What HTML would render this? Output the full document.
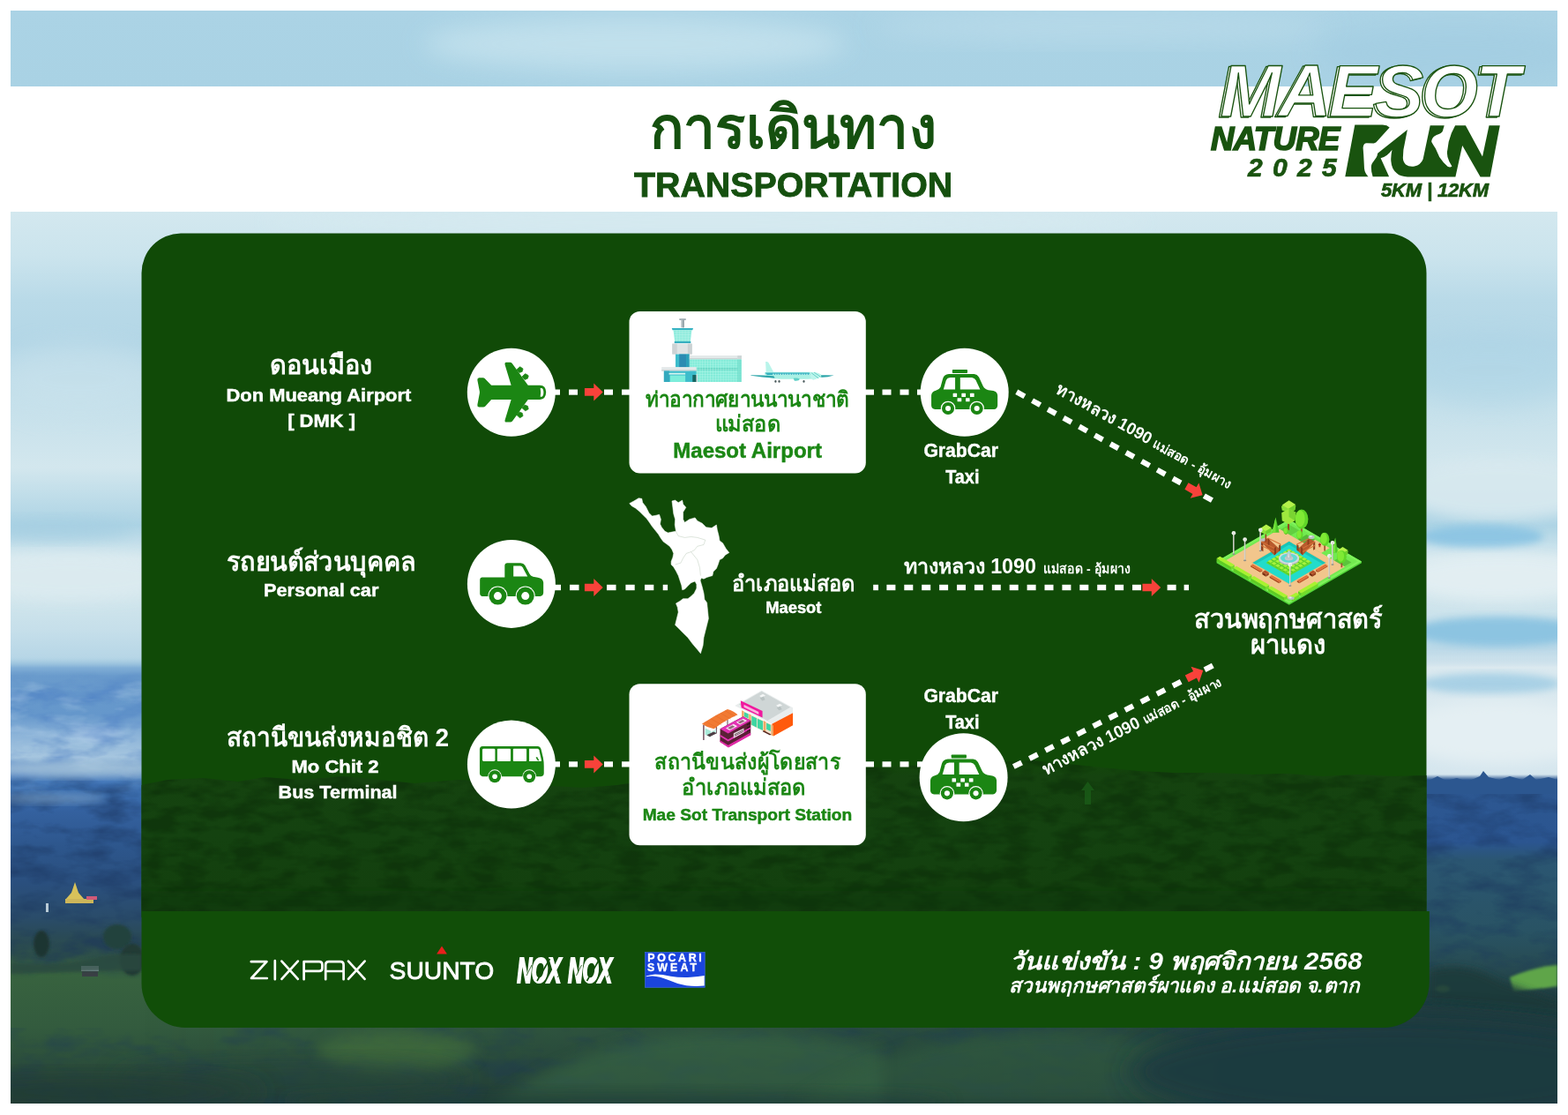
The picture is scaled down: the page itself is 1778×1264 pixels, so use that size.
<!DOCTYPE html>
<html><head><meta charset="utf-8"><title>Transportation - Maesot Nature Run 2025</title>
<style>
html,body{margin:0;padding:0;background:#fff;}
body{width:1778px;height:1264px;overflow:hidden;font-family:"Liberation Sans",sans-serif;}
svg{display:block;position:absolute;left:0;top:0}
text{font-family:"Liberation Sans",sans-serif;}
</style></head><body>
<svg width="1778" height="1264" viewBox="0 0 1778 1264">
<defs>
<clipPath id="photo"><rect x="12" y="12" width="1754" height="1239"/></clipPath>
<linearGradient id="sky" x1="0" y1="12" x2="0" y2="900" gradientUnits="userSpaceOnUse">
 <stop offset="0" stop-color="#abd3e5"/>
 <stop offset="0.097" stop-color="#a9d2e4"/>
 <stop offset="0.257" stop-color="#d3e8ef"/>
 <stop offset="0.313" stop-color="#cbe4ed"/>
 <stop offset="0.369" stop-color="#b9dae8"/>
 <stop offset="0.426" stop-color="#b3d6e6"/>
 <stop offset="0.493" stop-color="#c3dfea"/>
 <stop offset="0.583" stop-color="#d3e7ee"/>
 <stop offset="0.657" stop-color="#acd3e4"/>
 <stop offset="0.70" stop-color="#d8e9ef"/>
 <stop offset="0.752" stop-color="#d0e5ec"/>
 <stop offset="0.79" stop-color="#c6dfea"/>
 <stop offset="0.83" stop-color="#b5d5e6"/>
 <stop offset="1" stop-color="#7fadc6"/>
</linearGradient>
<linearGradient id="mtL" x1="0" y1="745" x2="0" y2="1251" gradientUnits="userSpaceOnUse">
 <stop offset="0.0000" stop-color="#a3cbe0" stop-opacity="0"/>
 <stop offset="0.0237" stop-color="#80aed6"/>
 <stop offset="0.0415" stop-color="#6a9bcc"/>
 <stop offset="0.1285" stop-color="#6597cb"/>
 <stop offset="0.1719" stop-color="#8ab2d8"/>
 <stop offset="0.2233" stop-color="#a6c6df"/>
 <stop offset="0.2549" stop-color="#6593c8"/>
 <stop offset="0.2866" stop-color="#3f74b6"/>
 <stop offset="0.3458" stop-color="#34619f"/>
 <stop offset="0.4249" stop-color="#2d568c"/>
 <stop offset="0.5040" stop-color="#2a4f7e"/>
 <stop offset="0.5830" stop-color="#2a4c6a"/>
 <stop offset="0.6265" stop-color="#2a4a56"/>
 <stop offset="0.6719" stop-color="#2e5048"/>
 <stop offset="0.7016" stop-color="#38633f"/>
 <stop offset="0.8300" stop-color="#335b3e"/>
 <stop offset="0.9289" stop-color="#2a4b3a"/>
 <stop offset="1.0000" stop-color="#233f36"/>
</linearGradient>
<linearGradient id="mtR" x1="0" y1="735" x2="0" y2="1251" gradientUnits="userSpaceOnUse">
 <stop offset="0.0000" stop-color="#dbe9ef" stop-opacity="0"/>
 <stop offset="0.0407" stop-color="#dbe9ef"/>
 <stop offset="0.2771" stop-color="#d5e6ee"/>
 <stop offset="0.2888" stop-color="#2d5892"/>
 <stop offset="0.4264" stop-color="#2b5590"/>
 <stop offset="0.4651" stop-color="#2b5672"/>
 <stop offset="0.6202" stop-color="#295364"/>
 <stop offset="0.7074" stop-color="#274a50"/>
 <stop offset="0.7713" stop-color="#1f3c3f"/>
 <stop offset="1.0000" stop-color="#1e393d"/>
</linearGradient>
<linearGradient id="lrmask" x1="160" y1="0" x2="1617" y2="0" gradientUnits="userSpaceOnUse">
 <stop offset="0" stop-color="#fff" stop-opacity="0"/>
 <stop offset="0.75" stop-color="#fff" stop-opacity="0.55"/>
 <stop offset="1" stop-color="#fff" stop-opacity="1"/>
</linearGradient>
<mask id="rightmask"><rect x="0" y="0" width="1778" height="1264" fill="url(#lrmask)"/><rect x="1617" y="0" width="161" height="1264" fill="#fff"/></mask>
<filter id="mtnoise" x="0" y="0" width="100%" height="100%" color-interpolation-filters="sRGB">
 <feTurbulence type="fractalNoise" baseFrequency="0.02 0.05" numOctaves="4" seed="3" result="n"/>
 <feColorMatrix in="n" type="matrix" values="0 0 0 0 0.10  0 0 0 0 0.20  0 0 0 0 0.36  0 0 0 2.6 -1.1"/>
</filter>
<filter id="mtnoiseB" x="0" y="0" width="100%" height="100%" color-interpolation-filters="sRGB">
 <feTurbulence type="fractalNoise" baseFrequency="0.02 0.05" numOctaves="4" seed="5" result="n"/>
 <feColorMatrix in="n" type="matrix" values="0 0 0 0 0.27  0 0 0 0 0.47  0 0 0 0 0.76  0 0 0 2.6 -1.1"/>
</filter>
<filter id="mtnoise2" x="0" y="0" width="100%" height="100%" color-interpolation-filters="sRGB">
 <feTurbulence type="fractalNoise" baseFrequency="0.015 0.045" numOctaves="4" seed="19" result="n"/>
 <feColorMatrix in="n" type="matrix" values="0 0 0 0 0.85  0 0 0 0 0.92  0 0 0 0 0.97  0 0 0 2.4 -1.25"/>
</filter>
<linearGradient id="fadeA" x1="0" y1="760" x2="0" y2="900" gradientUnits="userSpaceOnUse"><stop offset="0" stop-color="#fff" stop-opacity="0"/><stop offset="0.15" stop-color="#fff"/><stop offset="0.85" stop-color="#fff"/><stop offset="1" stop-color="#fff" stop-opacity="0"/></linearGradient>
<mask id="mA"><rect x="0" y="740" width="1778" height="180" fill="url(#fadeA)"/></mask>
<linearGradient id="fadeB" x1="0" y1="870" x2="0" y2="1110" gradientUnits="userSpaceOnUse"><stop offset="0" stop-color="#fff" stop-opacity="0"/><stop offset="0.12" stop-color="#fff"/><stop offset="0.9" stop-color="#fff"/><stop offset="1" stop-color="#fff" stop-opacity="0"/></linearGradient>
<mask id="mB"><rect x="0" y="860" width="1778" height="260" fill="url(#fadeB)"/></mask>
<filter id="b4" x="-20%" y="-20%" width="140%" height="140%"><feGaussianBlur stdDeviation="4"/></filter>
<filter id="b8" x="-30%" y="-30%" width="160%" height="160%"><feGaussianBlur stdDeviation="8"/></filter>
<filter id="b14" x="-30%" y="-30%" width="160%" height="160%"><feGaussianBlur stdDeviation="14"/></filter>
<filter id="b2" x="-20%" y="-20%" width="140%" height="140%"><feGaussianBlur stdDeviation="1.6"/></filter>
</defs>
<rect x="0" y="0" width="1778" height="1264" fill="#fff"/>
<g clip-path="url(#photo)">
<rect x="12" y="12" width="1754" height="1239" fill="url(#sky)"/>
<ellipse cx="720" cy="50" rx="240" ry="30" fill="#c6e3ee" opacity="0.8" filter="url(#b14)"/>
<ellipse cx="1250" cy="30" rx="260" ry="18" fill="#bbdcea" opacity="0.7" filter="url(#b14)"/>
<ellipse cx="1650" cy="60" rx="160" ry="30" fill="#a3cde2" opacity="0.8" filter="url(#b14)"/>
<ellipse cx="800" cy="252" rx="500" ry="14" fill="#d6eaf0" opacity="0.8" filter="url(#b8)"/>
<ellipse cx="80" cy="655" rx="120" ry="26" fill="#dcebf0" opacity="0.9" filter="url(#b8)"/>
<ellipse cx="60" cy="600" rx="90" ry="12" fill="#a6cfe2" opacity="0.8" filter="url(#b8)"/>
<ellipse cx="90" cy="430" rx="90" ry="40" fill="#c9e2ec" opacity="0.6" filter="url(#b14)"/>
<ellipse cx="1700" cy="555" rx="110" ry="34" fill="#d8e9ef" opacity="0.9" filter="url(#b8)"/>
<ellipse cx="1680" cy="608" rx="70" ry="13" fill="#8cc5e3" opacity="0.95" filter="url(#b4)"/>
<ellipse cx="1700" cy="655" rx="110" ry="26" fill="#e3eff3" opacity="0.95" filter="url(#b8)"/>
<ellipse cx="1700" cy="716" rx="100" ry="17" fill="#8ac3e1" opacity="0.95" filter="url(#b4)"/>
<ellipse cx="1690" cy="420" rx="100" ry="40" fill="#aed5e6" opacity="0.6" filter="url(#b14)"/>
<rect x="12" y="745" width="1754" height="506" fill="url(#mtL)"/>
<g mask="url(#rightmask)"><rect x="12" y="735" width="1754" height="516" fill="url(#mtR)"/><ellipse cx="1690" cy="775" rx="80" ry="12" fill="#9ccbe3" opacity="0.8" filter="url(#b4)"/><ellipse cx="1700" cy="830" rx="120" ry="36" fill="#e4eff3" filter="url(#b8)"/></g>
<g mask="url(#mA)"><rect x="12" y="755" width="150" height="150" filter="url(#mtnoiseB)" opacity="0.5"/><rect x="12" y="755" width="150" height="150" filter="url(#mtnoise2)" opacity="0.45"/></g>
<g mask="url(#mB)"><rect x="12" y="865" width="150" height="250" filter="url(#mtnoise)" opacity="0.5"/><rect x="1618" y="888" width="150" height="225" filter="url(#mtnoise)" opacity="0.45"/></g>
<rect x="12" y="1165" width="1754" height="86" filter="url(#mtnoise)" opacity="0.3"/>
<path d="M1610 888 L1622 884 L1630 880 L1640 885 L1652 882 L1664 886 L1678 880 L1682 874 L1688 881 L1700 884 L1712 880 L1726 884 L1735 878 L1742 884 L1756 881 L1766 884 L1766 900 L1610 900Z" fill="#2c5790"/>
<path d="M1712 1108 Q1740 1096 1766 1094 L1766 1118 Q1740 1122 1716 1124Z" fill="#5fa548" filter="url(#b2)"/>
<ellipse cx="1636" cy="1121" rx="8" ry="4" fill="#86b84a" filter="url(#b2)"/>
<path d="M1620 1100 Q1660 1088 1700 1112 L1766 1135 L1766 1150 L1620 1135Z" fill="#1f3a3a" opacity="0.9" filter="url(#b4)"/>
<ellipse cx="90" cy="872" rx="110" ry="9" fill="#a9c6da" opacity="0.75" filter="url(#b4)"/>
<ellipse cx="60" cy="905" rx="60" ry="6" fill="#7ea3c6" opacity="0.6" filter="url(#b4)"/>
<path d="M85 1000 L89 1012 L96 1020 L74 1020 L81 1012Z" fill="#d8c25a"/>
<rect x="74" y="1019" width="32" height="5" fill="#cdb65a"/><rect x="98" y="1016" width="12" height="4" fill="#d05a78"/>
<rect x="52" y="1024" width="3" height="10" fill="#b9cbd6"/>
<rect x="92" y="1095" width="20" height="6" fill="#b9c3cf"/><rect x="93" y="1101" width="18" height="6" fill="#3a3f45"/>
<ellipse cx="47" cy="1070" rx="9" ry="15" fill="#1f3532" filter="url(#b2)"/>
<ellipse cx="133" cy="1062" rx="16" ry="14" fill="#24433c" filter="url(#b2)"/>
<ellipse cx="150" cy="1088" rx="14" ry="18" fill="#203a34" filter="url(#b2)"/>
<path d="M12 1092 Q60 1096 100 1088 Q130 1080 160 1082 L160 1100 L12 1104Z" fill="#2a4a40" opacity="0.8" filter="url(#b2)"/>
<ellipse cx="450" cy="1192" rx="90" ry="22" fill="#4d7d3a" opacity="0.5" filter="url(#b8)"/>
<ellipse cx="330" cy="1225" rx="200" ry="22" fill="#25453a" opacity="0.55" filter="url(#b14)"/>
<path d="M560 1251 Q660 1180 790 1172 Q900 1168 1000 1190 L1000 1251Z" fill="#3b6a44" opacity="0.55" filter="url(#b8)"/>
<path d="M900 1251 Q1010 1176 1180 1170 Q1290 1172 1380 1200 L1380 1251Z" fill="#36623f" opacity="0.5" filter="url(#b8)"/>
<ellipse cx="100" cy="1238" rx="200" ry="20" fill="#213b34" opacity="0.7" filter="url(#b14)"/>
<ellipse cx="1580" cy="1215" rx="300" ry="62" fill="#1f3b3f" opacity="0.95" filter="url(#b14)"/>
<ellipse cx="700" cy="1248" rx="380" ry="12" fill="#223f38" opacity="0.6" filter="url(#b8)"/>
</g>
<rect x="0" y="98" width="1778" height="142" fill="#fff"/>
<defs>
<clipPath id="panelclip"><path d="M205 264.5 H1572.5 A45 45 0 0 1 1617.5 309.5 V1040 H160.5 V309.5 A45 45 0 0 1 205 264.5Z"/></clipPath>
<linearGradient id="forest" x1="0" y1="862" x2="0" y2="1033" gradientUnits="userSpaceOnUse">
 <stop offset="0" stop-color="#124709"/>
 <stop offset="0.1" stop-color="#15430f"/>
 <stop offset="0.5" stop-color="#144210"/>
 <stop offset="0.85" stop-color="#13400e"/>
 <stop offset="1" stop-color="#133e0e"/>
</linearGradient>
<clipPath id="forestclip"><path d="M160 890 L190 884 L230 882 L270 886 L300 881 L340 884 L390 880 L430 884 L470 888 L520 884 L560 886 L610 890 L660 893 L700 890 L740 884 L790 882 L840 880 L880 876 L930 872 L980 870 L1030 868 L1080 866 L1130 864 L1170 862 L1210 866 L1250 870 L1290 874 L1330 876 L1380 876 L1420 878 L1460 877 L1500 880 L1540 878 L1580 880 L1618 879 L1618 1033 L160 1033Z"/></clipPath>
<filter id="noise" x="0" y="0" width="100%" height="100%" color-interpolation-filters="sRGB">
 <feTurbulence type="fractalNoise" baseFrequency="0.03 0.07" numOctaves="3" seed="11" result="n"/>
 <feColorMatrix in="n" type="matrix" values="0 0 0 0 0.04  0 0 0 0 0.17  0 0 0 0 0.03  0 0 0 3.2 -1.3"/>
</filter>
</defs>
<g clip-path="url(#panelclip)">
<rect x="160" y="264" width="1460" height="780" fill="#104a07"/>
<path d="M160 890 L190 884 L230 882 L270 886 L300 881 L340 884 L390 880 L430 884 L470 888 L520 884 L560 886 L610 890 L660 893 L700 890 L740 884 L790 882 L840 880 L880 876 L930 872 L980 870 L1030 868 L1080 866 L1130 864 L1170 862 L1210 866 L1250 870 L1290 874 L1330 876 L1380 876 L1420 878 L1460 877 L1500 880 L1540 878 L1580 880 L1618 879 L1618 1033 L160 1033Z" fill="url(#forest)"/>
<rect x="160" y="860" width="1458" height="173" filter="url(#noise)" opacity="0.5" clip-path="url(#forestclip)"/>
<rect x="160" y="1010" width="1458" height="23" fill="#0f380b" opacity="0.35" filter="url(#b4)"/>
<path d="M1233.5 886 L1241 896 L1237 896 L1237 912 L1230 912 L1230 896 L1226 896Z" fill="#1a5c18" opacity="0.8"/>
</g>
<path d="M160.5 1033 H1620.8 V1113 A52 52 0 0 1 1568.8 1165 H210.5 A50 50 0 0 1 160.5 1115Z" fill="#114e08"/>
<text x="737.1" y="167.5" font-size="66.8" font-weight="700" fill="#15500f" textLength="325" lengthAdjust="spacingAndGlyphs">การเดินทาง</text>
<text x="899.6" y="222.6" font-size="39" font-weight="700" text-anchor="middle" fill="#15500f" stroke="#15500f" stroke-width="0.9" textLength="361" lengthAdjust="spacingAndGlyphs">TRANSPORTATION</text>
<text x="1381.0" y="132.6" font-size="83" font-weight="700" font-style="italic" letter-spacing="-3" fill="#fff" stroke="#19530f" stroke-width="1.35" stroke-linejoin="round">MAESOT</text>
<text x="1383.6" y="131.6" font-size="83" font-weight="700" font-style="italic" letter-spacing="-3" fill="#fff" stroke="#19530f" stroke-width="1.35" stroke-linejoin="round">MAESOT</text>
<text x="1373" y="170" font-size="36.5" font-weight="700" font-style="italic" letter-spacing="-0.6" fill="#19530f" stroke="#19530f" stroke-width="1.7">NATURE</text>
<text x="1415" y="200.3" font-size="30" font-weight="700" font-style="italic" letter-spacing="11.3" fill="#19530f" stroke="#19530f" stroke-width="0.7">2025</text>
<text x="1566" y="223.4" font-size="22" font-weight="700" font-style="italic" letter-spacing="-0.15" fill="#19530f" stroke="#19530f" stroke-width="0.7">5KM | 12KM</text>
<path fill="#19530f" d="M1536.3 141.6 L1567.8 141.6 Q1573 141.8 1575.7 144.4 L1560.5 161.3 Q1559 162.4 1557.7 162.4 L1549.8 162.2 Q1546 162.2 1545.6 167.5 L1546.2 175.4 L1547 191.1 Q1547.6 196.5 1551.5 200.2 L1525.3 200.2 Z M1595.9 147 L1562.2 173.7 L1561.6 176.5 L1560.5 178.7 L1556 184.9 Q1554.7 187 1554.9 190 L1555.2 194.5 L1556.6 200.2 L1575.1 200.2 L1565.6 179.3 Q1573 177.5 1578.5 169.7 Q1576.8 178 1577.4 183 Q1578 192 1584 196.5 Q1588 200.2 1596 200.4 L1650.4 200.4 L1658.2 165.1 L1678.6 200.6 L1689.7 200.6 L1700.8 142.2 L1688.5 142.2 L1681 177.5 L1661.9 142.2 L1650.1 142.2 Q1645 151 1642.7 160.7 L1641.4 169.4 Q1639.8 176 1643.3 183 L1646.4 188.6 Q1644.5 190.5 1641.5 188.8 Q1636 184 1632.2 178.1 L1627.8 168.2 Q1623 161 1623.2 160.1 Q1624 155 1629 153 Q1635 151 1635.9 148.4 L1637.7 142.2 L1621.7 142.2 L1613.6 180.5 Q1611 187 1604 188.5 Q1598 189.5 1594 186.5 Q1590.5 183 1590.9 178 L1591.4 169.7 L1593.1 161.3 Z"/>
<text x="305.7" y="424.2" font-size="30.2" font-weight="700" fill="#ffffff" textLength="117" lengthAdjust="spacingAndGlyphs">ดอนเมือง</text>
<text x="361.4" y="455.1" font-size="20.6" font-weight="700" text-anchor="middle" fill="#ffffff" stroke="#ffffff" stroke-width="0.45" textLength="209.8" lengthAdjust="spacingAndGlyphs">Don Mueang Airport</text>
<text x="364.6" y="484.0" font-size="20.6" font-weight="700" text-anchor="middle" fill="#ffffff" stroke="#ffffff" stroke-width="0.45" textLength="76.8" lengthAdjust="spacingAndGlyphs">[ DMK ]</text>
<text x="256.8" y="647.1" font-size="29.8" font-weight="700" fill="#ffffff" textLength="215" lengthAdjust="spacingAndGlyphs">รถยนต์ส่วนบุคคล</text>
<text x="364.2" y="676.3" font-size="20.6" font-weight="700" text-anchor="middle" fill="#ffffff" stroke="#ffffff" stroke-width="0.45" textLength="130.4" lengthAdjust="spacingAndGlyphs">Personal car</text>
<text x="256.7" y="846.4" font-size="29.6" font-weight="700" fill="#ffffff" textLength="252.5" lengthAdjust="spacingAndGlyphs">สถานีขนส่งหมอชิต 2</text>
<text x="380.0" y="876.4" font-size="20.6" font-weight="700" text-anchor="middle" fill="#ffffff" stroke="#ffffff" stroke-width="0.45" textLength="99" lengthAdjust="spacingAndGlyphs">Mo Chit 2</text>
<text x="383.1" y="905.3" font-size="20.6" font-weight="700" text-anchor="middle" fill="#ffffff" stroke="#ffffff" stroke-width="0.45" textLength="135" lengthAdjust="spacingAndGlyphs">Bus Terminal</text>
<rect x="625" y="441.50" width="10.00" height="6.2" fill="#ffffff"/>
<rect x="645" y="441.50" width="10.00" height="6.2" fill="#ffffff"/>
<rect x="685" y="441.50" width="10.00" height="6.2" fill="#ffffff"/>
<rect x="705" y="441.50" width="11.00" height="6.2" fill="#ffffff"/>
<rect x="980" y="441.50" width="11.00" height="6.2" fill="#ffffff"/>
<rect x="1000.5" y="441.50" width="10.00" height="6.2" fill="#ffffff"/>
<rect x="1020.5" y="441.50" width="10.00" height="6.2" fill="#ffffff"/>
<rect x="1040" y="441.50" width="6.00" height="6.2" fill="#ffffff"/>
<rect x="625" y="662.80" width="11.00" height="6.4" fill="#ffffff"/>
<rect x="646" y="662.80" width="10.50" height="6.4" fill="#ffffff"/>
<rect x="688" y="662.80" width="10.50" height="6.4" fill="#ffffff"/>
<rect x="709.4" y="662.80" width="10.30" height="6.4" fill="#ffffff"/>
<rect x="731" y="662.80" width="10.30" height="6.4" fill="#ffffff"/>
<rect x="751.7" y="662.80" width="5.40" height="6.4" fill="#ffffff"/>
<rect x="990.2" y="662.80" width="5.80" height="6.4" fill="#ffffff"/>
<rect x="1005.4" y="662.80" width="10.00" height="6.4" fill="#ffffff"/>
<rect x="1025.3" y="662.80" width="10.00" height="6.4" fill="#ffffff"/>
<rect x="1045.2" y="662.80" width="10.00" height="6.4" fill="#ffffff"/>
<rect x="1065.1" y="662.80" width="10.00" height="6.4" fill="#ffffff"/>
<rect x="1085.0" y="662.80" width="10.00" height="6.4" fill="#ffffff"/>
<rect x="1104.9" y="662.80" width="10.00" height="6.4" fill="#ffffff"/>
<rect x="1124.8" y="662.80" width="10.00" height="6.4" fill="#ffffff"/>
<rect x="1144.7" y="662.80" width="10.00" height="6.4" fill="#ffffff"/>
<rect x="1164.6" y="662.80" width="10.00" height="6.4" fill="#ffffff"/>
<rect x="1184.5" y="662.80" width="10.00" height="6.4" fill="#ffffff"/>
<rect x="1204.4" y="662.80" width="10.00" height="6.4" fill="#ffffff"/>
<rect x="1224.3" y="662.80" width="10.00" height="6.4" fill="#ffffff"/>
<rect x="1244.2" y="662.80" width="10.00" height="6.4" fill="#ffffff"/>
<rect x="1264.1" y="662.80" width="10.00" height="6.4" fill="#ffffff"/>
<rect x="1284.0" y="662.80" width="10.00" height="6.4" fill="#ffffff"/>
<rect x="1323.6" y="662.80" width="10.00" height="6.4" fill="#ffffff"/>
<rect x="1342.6" y="662.80" width="5.40" height="6.4" fill="#ffffff"/>
<rect x="625" y="863.30" width="10.00" height="6.2" fill="#ffffff"/>
<rect x="645" y="863.30" width="10.00" height="6.2" fill="#ffffff"/>
<rect x="685" y="863.30" width="10.00" height="6.2" fill="#ffffff"/>
<rect x="705" y="863.30" width="11.00" height="6.2" fill="#ffffff"/>
<rect x="980" y="863.30" width="11.00" height="6.2" fill="#ffffff"/>
<rect x="1000.5" y="863.30" width="10.00" height="6.2" fill="#ffffff"/>
<rect x="1020.5" y="863.30" width="10.00" height="6.2" fill="#ffffff"/>
<rect x="1040" y="863.30" width="6.00" height="6.2" fill="#ffffff"/>
<path transform="translate(683.7,444.4) rotate(0)" d="M-20.8 -4.3 H-10.4 V-10 L0 0 L-10.4 10 V4.3 H-20.8Z" fill="#f8423a"/>
<path transform="translate(683.7,666.0) rotate(0)" d="M-20.8 -4.3 H-10.4 V-10 L0 0 L-10.4 10 V4.3 H-20.8Z" fill="#f8423a"/>
<path transform="translate(1316.2,666.0) rotate(0)" d="M-20.8 -4.3 H-10.4 V-10 L0 0 L-10.4 10 V4.3 H-20.8Z" fill="#f8423a"/>
<path transform="translate(683.7,866.4) rotate(0)" d="M-20.8 -4.3 H-10.4 V-10 L0 0 L-10.4 10 V4.3 H-20.8Z" fill="#f8423a"/>
<g transform="translate(1152.8,444.3) rotate(29.0)"><rect x="0.00" y="-3.1" width="10.4" height="6.2" fill="#ffffff"/><rect x="20.25" y="-3.1" width="10.4" height="6.2" fill="#ffffff"/><rect x="40.50" y="-3.1" width="10.4" height="6.2" fill="#ffffff"/><rect x="60.75" y="-3.1" width="10.4" height="6.2" fill="#ffffff"/><rect x="81.00" y="-3.1" width="10.4" height="6.2" fill="#ffffff"/><rect x="101.25" y="-3.1" width="10.4" height="6.2" fill="#ffffff"/><rect x="121.50" y="-3.1" width="10.4" height="6.2" fill="#ffffff"/><rect x="141.75" y="-3.1" width="10.4" height="6.2" fill="#ffffff"/><rect x="162.00" y="-3.1" width="10.4" height="6.2" fill="#ffffff"/><rect x="182.25" y="-3.1" width="10.4" height="6.2" fill="#ffffff"/><rect x="202.50" y="-3.1" width="10.4" height="6.2" fill="#ffffff"/><path transform="translate(241.05,0)" d="M-20.8 -4.3 H-10.4 V-10 L0 0 L-10.4 10 V4.3 H-20.8Z" fill="#f8423a"/><rect x="243.00" y="-3.1" width="10.4" height="6.2" fill="#ffffff"/></g>
<g transform="translate(1149.3,869.1) rotate(-26.9)"><rect x="0.00" y="-3.1" width="10.4" height="6.2" fill="#ffffff"/><rect x="20.25" y="-3.1" width="10.4" height="6.2" fill="#ffffff"/><rect x="40.50" y="-3.1" width="10.4" height="6.2" fill="#ffffff"/><rect x="60.75" y="-3.1" width="10.4" height="6.2" fill="#ffffff"/><rect x="81.00" y="-3.1" width="10.4" height="6.2" fill="#ffffff"/><rect x="101.25" y="-3.1" width="10.4" height="6.2" fill="#ffffff"/><rect x="121.50" y="-3.1" width="10.4" height="6.2" fill="#ffffff"/><rect x="141.75" y="-3.1" width="10.4" height="6.2" fill="#ffffff"/><rect x="162.00" y="-3.1" width="10.4" height="6.2" fill="#ffffff"/><rect x="182.25" y="-3.1" width="10.4" height="6.2" fill="#ffffff"/><rect x="202.50" y="-3.1" width="10.4" height="6.2" fill="#ffffff"/><path transform="translate(241.05,0)" d="M-20.8 -4.3 H-10.4 V-10 L0 0 L-10.4 10 V4.3 H-20.8Z" fill="#f8423a"/><rect x="243.00" y="-3.1" width="10.4" height="6.2" fill="#ffffff"/></g>
<circle cx="579.8" cy="444.8" r="50" fill="#ffffff"/>
<circle cx="579.9" cy="661.9" r="50" fill="#ffffff"/>
<circle cx="579.9" cy="866.5" r="50" fill="#ffffff"/>
<circle cx="1093.7" cy="444.7" r="50" fill="#ffffff"/>
<circle cx="1092.6" cy="881.2" r="50" fill="#ffffff"/>
<rect x="713.5" y="353.1" width="268.3" height="183.5" rx="12" fill="#ffffff"/>
<rect x="713.5" y="775.2" width="268.3" height="183.1" rx="12" fill="#ffffff"/>
<text x="732.0" y="460.6" font-size="24.0" font-weight="700" fill="#1b8714" textLength="231" lengthAdjust="spacingAndGlyphs">ท่าอากาศยานนานาชาติ</text>
<text x="810.5" y="489.3" font-size="25.2" font-weight="700" fill="#1b8714" textLength="74" lengthAdjust="spacingAndGlyphs">แม่สอด</text>
<text x="847.6" y="518.5" font-size="23" font-weight="700" text-anchor="middle" fill="#1b8714" stroke="#1b8714" stroke-width="0.45" textLength="168.7" lengthAdjust="spacingAndGlyphs">Maesot Airport</text>
<text x="742.2" y="872.2" font-size="24.3" font-weight="700" fill="#1b8714" textLength="211" lengthAdjust="spacingAndGlyphs">สถานีขนส่งผู้โดยสาร</text>
<text x="773.4" y="900.9" font-size="24.9" font-weight="700" fill="#1b8714" textLength="140" lengthAdjust="spacingAndGlyphs">อำเภอแม่สอด</text>
<text x="847.4" y="930.4" font-size="17.6" font-weight="700" text-anchor="middle" fill="#1b8714" stroke="#1b8714" stroke-width="0.45" textLength="237.5" lengthAdjust="spacingAndGlyphs">Mae Sot Transport Station</text>
<text x="1089.7" y="518.4" font-size="21.2" font-weight="700" text-anchor="middle" fill="#ffffff" stroke="#ffffff" stroke-width="0.45" textLength="84.6" lengthAdjust="spacingAndGlyphs">GrabCar</text>
<text x="1091.3" y="547.6" font-size="21.2" font-weight="700" text-anchor="middle" fill="#ffffff" stroke="#ffffff" stroke-width="0.45" textLength="38.2" lengthAdjust="spacingAndGlyphs">Taxi</text>
<text x="1089.7" y="796.2" font-size="21.2" font-weight="700" text-anchor="middle" fill="#ffffff" stroke="#ffffff" stroke-width="0.45" textLength="84.6" lengthAdjust="spacingAndGlyphs">GrabCar</text>
<text x="1091.3" y="825.5" font-size="21.2" font-weight="700" text-anchor="middle" fill="#ffffff" stroke="#ffffff" stroke-width="0.45" textLength="38.2" lengthAdjust="spacingAndGlyphs">Taxi</text>
<text x="829.5" y="669.7" font-size="24.9" font-weight="700" fill="#ffffff" textLength="140" lengthAdjust="spacingAndGlyphs">อำเภอแม่สอด</text>
<text x="899.8" y="694.9" font-size="17.6" font-weight="700" text-anchor="middle" fill="#ffffff" stroke="#ffffff" stroke-width="0.45" textLength="63.3" lengthAdjust="spacingAndGlyphs">Maesot</text>
<text x="1025.0" y="649.6" font-size="23.4" font-weight="700" fill="#ffffff" textLength="150" lengthAdjust="spacingAndGlyphs">ทางหลวง 1090</text>
<text x="1183.2" y="649.6" font-size="14.7" font-weight="700" fill="#ffffff" textLength="98.6" lengthAdjust="spacingAndGlyphs">แม่สอด - อุ้มผาง</text>
<text x="1354.1" y="712.0" font-size="29.3" font-weight="700" fill="#ffffff" textLength="214" lengthAdjust="spacingAndGlyphs">สวนพฤกษศาสตร์</text>
<text x="1418.0" y="741.1" font-size="29.8" font-weight="700" fill="#ffffff" textLength="85.6" lengthAdjust="spacingAndGlyphs">ผาแดง</text>
<text transform="translate(1195.8,445.0) rotate(29.0)" x="0" y="0" font-size="19.0" font-weight="700" fill="#ffffff" textLength="121.5" lengthAdjust="spacingAndGlyphs">ทางหลวง 1090</text>
<text transform="translate(1195.8,445.0) rotate(29.0)" x="126.5" y="0" font-size="14.7" font-weight="700" fill="#ffffff" textLength="98.6" lengthAdjust="spacingAndGlyphs">แม่สอด - อุ้มผาง</text>
<text transform="translate(1185.7,878.6) rotate(-26.9)" x="0" y="0" font-size="19.0" font-weight="700" fill="#ffffff" textLength="121.5" lengthAdjust="spacingAndGlyphs">ทางหลวง 1090</text>
<text transform="translate(1185.7,878.6) rotate(-26.9)" x="126.5" y="0" font-size="14.7" font-weight="700" fill="#ffffff" textLength="98.6" lengthAdjust="spacingAndGlyphs">แม่สอด - อุ้มผาง</text>
<g transform="translate(520,385) scale(0.112486)"><g fill="#1b8613">
<path d="M205 385 H248 Q262 387 272 400 L330 460 H530 L468 255 Q462 232 480 230 H520 Q535 230 545 246 L700 460 H820 Q880 462 882 530 Q880 602 820 605 H700 L545 818 Q535 832 520 832 H480 Q462 830 468 808 L530 605 H330 L272 668 Q262 680 248 680 H205 Q186 676 190 655 L212 540 Q213 531 212 522 L190 408 Q186 390 205 385Z"/>
<path d="M584 304 L610 280 L618 274 L627 278 L643 288 L650 294 L647 303 L642 322 L612 334Z" stroke-linejoin="round" stroke-width="6" stroke="#1b8613"/><path d="M639 374 L665 350 L673 344 L682 348 L698 358 L705 364 L702 373 L697 392 L667 404Z" stroke-linejoin="round" stroke-width="6" stroke="#1b8613"/><path d="M584 758 L610 782 L618 788 L627 784 L643 774 L650 768 L647 759 L642 740 L612 728Z" stroke-linejoin="round" stroke-width="6" stroke="#1b8613"/><path d="M639 688 L665 712 L673 718 L682 714 L698 704 L705 698 L702 689 L697 670 L667 658Z" stroke-linejoin="round" stroke-width="6" stroke="#1b8613"/>
</g>
<path d="M824 488 H838 Q856 492 857 531 Q856 572 838 576 H824 Q832 531 824 488Z" fill="#ffffff"/></g>
<g transform="translate(520,600) scale(0.112486)"><g fill="#1b8613">
<path d="M235 485 H465 V362 Q466 341 488 340 H625 Q655 342 670 365 L715 450 Q725 470 750 478 L800 487 Q850 495 855 535 V640 Q853 672 822 675 H235 Q216 673 215 652 V507 Q216 487 235 485Z"/>
<circle cx="395" cy="672" r="98" fill="#ffffff"/><circle cx="673" cy="672" r="98" fill="#ffffff"/>
<circle cx="395" cy="672" r="89"/><circle cx="673" cy="672" r="89"/>
</g>
<circle cx="395" cy="672" r="40" fill="#ffffff"/><circle cx="673" cy="672" r="40" fill="#ffffff"/>
<path d="M553 368 H622 Q638 370 646 384 L695 475 H553Z" fill="#ffffff"/></g>
<g transform="translate(520,806) scale(0.112486)"><g fill="#1b8613">
<path d="M240 355 H800 Q822 357 830 380 L852 470 Q860 510 860 560 V630 Q858 658 832 660 H240 Q216 658 213 634 V382 Q216 357 240 355Z"/>
<circle cx="365" cy="660" r="70" fill="#ffffff"/><circle cx="713" cy="660" r="70" fill="#ffffff"/>
<circle cx="365" cy="660" r="62"/><circle cx="713" cy="660" r="62"/>
</g>
<circle cx="365" cy="660" r="25" fill="#ffffff"/><circle cx="713" cy="660" r="25" fill="#ffffff"/>
<g fill="#ffffff"><rect x="240" y="380" width="128" height="126" rx="12"/><rect x="390" y="380" width="135" height="126" rx="8"/><rect x="550" y="380" width="135" height="126" rx="8"/>
<path d="M712 380 H798 Q808 382 812 394 L836 500 Q836 506 828 506 H712Z"/></g>
<path d="M778 470 L792 462 L812 498 L800 502Z" fill="#1b8613"/></g>
<g transform="translate(1035,390) scale(0.087032)"><g fill="#1b8613">
<rect x="515" y="334" width="198" height="45" rx="10"/>
<path d="M470 392 H800 Q840 396 862 432 L915 545 Q935 588 985 600 L1050 610 Q1100 622 1105 670 V800 Q1100 846 1058 850 H290 Q246 846 242 802 V670 Q246 618 300 606 Q345 596 362 560 L392 450 Q408 398 470 392Z"/>
<circle cx="460" cy="838" r="95" fill="#ffffff"/><circle cx="835" cy="838" r="95" fill="#ffffff"/>
<circle cx="460" cy="838" r="81"/><circle cx="835" cy="838" r="81"/>
</g>
<circle cx="460" cy="838" r="35" fill="#ffffff"/><circle cx="835" cy="838" r="35" fill="#ffffff"/>
<g fill="#ffffff"><path d="M490 437 H552 V592 H400 L435 470 Q448 440 490 437Z"/><path d="M618 437 H770 Q805 440 822 472 L878 592 H618Z"/>
<rect x="524" y="642" width="52" height="48" rx="6"/><rect x="636" y="642" width="54" height="48" rx="6"/><rect x="746" y="642" width="54" height="48" rx="6"/>
<rect x="581" y="703" width="54" height="48" rx="6"/><rect x="690" y="703" width="52" height="48" rx="6"/></g></g>
<g transform="translate(1033.9,826.4) scale(0.087032)"><g fill="#1b8613">
<rect x="515" y="334" width="198" height="45" rx="10"/>
<path d="M470 392 H800 Q840 396 862 432 L915 545 Q935 588 985 600 L1050 610 Q1100 622 1105 670 V800 Q1100 846 1058 850 H290 Q246 846 242 802 V670 Q246 618 300 606 Q345 596 362 560 L392 450 Q408 398 470 392Z"/>
<circle cx="460" cy="838" r="95" fill="#ffffff"/><circle cx="835" cy="838" r="95" fill="#ffffff"/>
<circle cx="460" cy="838" r="81"/><circle cx="835" cy="838" r="81"/>
</g>
<circle cx="460" cy="838" r="35" fill="#ffffff"/><circle cx="835" cy="838" r="35" fill="#ffffff"/>
<g fill="#ffffff"><path d="M490 437 H552 V592 H400 L435 470 Q448 440 490 437Z"/><path d="M618 437 H770 Q805 440 822 472 L878 592 H618Z"/>
<rect x="524" y="642" width="52" height="48" rx="6"/><rect x="636" y="642" width="54" height="48" rx="6"/><rect x="746" y="642" width="54" height="48" rx="6"/>
<rect x="581" y="703" width="54" height="48" rx="6"/><rect x="690" y="703" width="52" height="48" rx="6"/></g></g>
<g transform="translate(690,550) scale(0.179986)"><path d="M190 82 L210 85 L215 110 L235 135 L255 175 L275 195 L300 190 L320 185 L330 215 L325 245 L335 265 L355 290 L375 300 L400 295 L425 290 L418 250 L420 215 L410 180 L405 140 L400 100 L420 95 L440 110 L465 95 L470 120 L488 140 L470 170 L470 215 L480 235 L510 215 L545 205 L560 225 L590 240 L615 265 L650 270 L680 250 L685 280 L695 320 L700 350 L720 365 L740 400 L760 425 L735 440 L720 460 L700 470 L690 500 L680 525 L660 545 L655 570 L620 580 L600 590 L585 585 L578 600 L590 640 L600 680 L605 720 L620 740 L625 790 L630 840 L620 880 L610 920 L600 960 L595 1010 L580 1060 L560 1035 L530 1000 L500 960 L470 930 L440 900 L420 880 L430 840 L440 800 L435 770 L425 745 L450 730 L470 715 L500 715 L520 700 L540 680 L555 650 L555 625 L545 605 L520 615 L500 635 L480 655 L465 660 L460 630 L450 600 L440 570 L425 540 L410 515 L395 500 L395 480 L405 455 L410 430 L400 405 L385 385 L365 370 L345 355 L330 335 L315 310 L295 285 L275 260 L258 235 L240 210 L220 190 L195 165 L170 145 L145 130 L132 115 L160 100Z" fill="#ffffff" stroke="#ffffff" stroke-width="3" stroke-linejoin="round"/><path d="M425 292 L440 320 L480 330 L520 325 L560 330 L610 345 L600 375 L560 385 L540 410 L520 420 L560 470 L575 520 L580 570 M520 420 L490 430 L470 460 L455 490 L420 500" fill="none" stroke="#9fb59c" stroke-width="2"/></g>
<g transform="translate(740,355) scale(0.123732)"><rect x="245" y="50" width="60" height="14" fill="#9aa8ae"/><rect x="261" y="60" width="28" height="72" fill="#b3bec3"/><rect x="275" y="60" width="14" height="72" fill="#95a3a9"/><path d="M176 138 H372 L366 156 H182Z" fill="#35b2c2"/><path d="M190 156 H358 L346 262 H204Z" fill="#8fecdd"/><path d="M222 156V262M248 156V262M274 156V262M300 156V262M326 156V262M196 177H352M196 198H352M196 220H352M196 241H352" stroke="#c9f8ef" stroke-width="3" fill="none"/><rect x="200" y="258" width="150" height="18" fill="#36aebf"/><rect x="180" y="280" width="182" height="96" fill="#dfe4e5"/><rect x="180" y="280" width="44" height="96" fill="#cdd3d5"/><rect x="322" y="280" width="40" height="96" fill="#cbd1d3"/><rect x="210" y="376" width="126" height="122" fill="#3cbccb"/><rect x="244" y="376" width="64" height="122" fill="#2b8bb2"/><rect x="308" y="376" width="28" height="122" fill="#2a9fb8"/><rect x="338" y="388" width="478" height="34" fill="#e3e9e9"/><rect x="338" y="414" width="440" height="10" fill="#c3cccd"/><rect x="778" y="388" width="38" height="34" fill="#cfd6d7"/><rect x="340" y="424" width="474" height="206" fill="#7febd8"/><rect x="400" y="500" width="380" height="24" fill="#5fd3c0" opacity="0.8"/><path d="M364 424V630M387 424V630M411 424V630M435 424V630M458 424V630M482 424V630M506 424V630M530 424V630M553 424V630M577 424V630M601 424V630M624 424V630M648 424V630M672 424V630M696 424V630M719 424V630M743 424V630M767 424V630M790 424V630M340 447H814M340 470H814M340 493H814M340 516H814M340 538H814M340 561H814M340 584H814M340 607H814" stroke="#c6f9ef" stroke-width="3" fill="none"/><rect x="776" y="424" width="38" height="206" fill="#6fdcca" opacity="0.6"/><rect x="82" y="494" width="320" height="34" fill="#e4e9ea"/><rect x="82" y="520" width="320" height="10" fill="#c5cdcf"/><rect x="104" y="530" width="296" height="100" fill="#3dbccb"/><rect x="104" y="530" width="50" height="100" fill="#34a9bd"/><rect x="150" y="548" width="150" height="14" fill="#d7f5f0"/><rect x="160" y="570" width="140" height="60" fill="#7deedb"/><rect x="366" y="566" width="40" height="64" fill="#17635f"/><rect x="400" y="560" width="12" height="70" fill="#d9e3e3"/><path d="M1035 445 Q1050 440 1062 452 L1108 540 H1040Z" fill="#b8f4ea"/><path d="M1040 540 Q1020 548 1030 562 Q1060 600 1180 604 H1420 Q1520 600 1560 580 Q1545 548 1440 540Z" fill="#a9f0e4"/><path d="M1030 546 H1430 Q1470 552 1490 566 H1050Z" fill="#35b0bf"/><path d="M1100 560 H1440" stroke="#d8fbf5" stroke-width="9" stroke-dasharray="14 8" fill="none"/><path d="M900 568 Q1000 566 1110 576 L1120 596 Q1000 590 900 572Z" fill="#2fa6aa"/><path d="M1440 545 Q1500 535 1540 560 Q1560 590 1470 612 Q1440 590 1440 545Z" fill="#bdf5ec"/><path d="M1456 548 L1520 596 M1480 542 L1540 584" stroke="#58c9c2" stroke-width="7"/><path d="M1545 568 Q1600 566 1662 570 Q1600 590 1545 588Z" fill="#2fa6aa"/><path d="M1290 596 Q1330 590 1350 604 Q1340 626 1300 620Z" fill="#5fd0c6"/><ellipse cx="1127" cy="626" rx="9" ry="11" fill="#4a5a5c"/><ellipse cx="1160" cy="626" rx="9" ry="11" fill="#4a5a5c"/><ellipse cx="1386" cy="626" rx="9" ry="11" fill="#4a5a5c"/></g>
<g transform="translate(785,775) scale(0.073115)"><path d="M665 340 L1075 105 L1560 372 L1560 455 L1235 625 L665 345Z" fill="#e9eded"/><path d="M722 320 L1075 118 L1520 365 L1165 575Z" fill="#cfd6d6"/><path d="M1040 190 L1095 160 L1135 185 L1080 215Z M1300 340 L1355 310 L1395 335 L1340 365Z" fill="#f4f6f6"/><path d="M1050 225 L1105 200 L1130 250 L1085 265Z M1310 375 L1365 350 L1390 400 L1345 415Z" fill="#b9c2c2"/><path d="M1235 625 L1560 455 L1560 645 L1258 815Z" fill="#ff5a0c"/><path d="M768 415 L1240 640 L1258 815 L1105 740 L768 570Z" fill="#f7e3cc"/><path d="M768 415 L800 430 L800 590 L768 572Z M880 470 L910 484 L910 640 L880 626Z M1105 575 L1140 592 L1140 758 L1105 740Z M1225 632 L1258 648 L1258 815 L1225 800Z" fill="#f0a766"/><path d="M805 440 L870 470 L870 540 L805 510Z M920 498 L1000 536 L1000 680 L920 640Z M1012 542 L1095 580 L1095 725 L1012 686Z M1150 610 L1215 640 L1215 740 L1150 708Z" fill="#3fd6a2"/><path d="M1105 725 L1225 785 L1205 800 L1090 742Z" fill="#5a2a22"/><path d="M750 262 L1088 425 L1088 528 L760 372Z" fill="#f0189e"/><path d="M800 325 L1030 436 L1030 478 L800 365Z" fill="#fbd0ea" opacity="0.85"/><rect x="165" y="640" width="22" height="235" fill="#7d5f6c"/><rect x="365" y="650" width="18" height="120" fill="#7d5f6c"/><rect x="540" y="560" width="14" height="90" fill="#5d4a55"/><path d="M200 690 L290 735 L290 830 L200 790Z" fill="#a9ead9"/><path d="M300 740 L370 710 L370 770 L300 800Z" fill="#c4f1e6"/><path d="M225 795 L330 745 L380 770 L270 825Z" fill="#4e3e44"/><path d="M150 625 Q330 500 545 395 Q640 420 705 482 Q520 560 335 700 Q230 680 150 625Z" fill="#f17a33"/><path d="M215 590 L390 690 M290 545 L455 640 M365 500 L525 595 M440 458 L600 550 M510 420 L660 510" stroke="#e0601e" stroke-width="5" fill="none"/><path d="M432 700 L790 508 L908 575 L905 790 L560 985 L430 900Z" fill="#5b2036"/><path d="M432 700 L790 508 L908 575 L556 772Z" fill="#e233b4"/><path d="M520 690 L640 625 L700 660 L580 725Z M680 600 L790 542 L850 575 L740 636Z" fill="#fbe3f4"/><path d="M548 686 L622 646 L660 668 L588 708Z M706 598 L776 560 L815 582 L744 620Z" fill="#8f6a78"/><path d="M430 790 L556 865 L905 672 L905 700 L556 895 L430 818Z" fill="#e233b4"/><path d="M430 880 L556 955 L905 760 L905 800 L560 990 L430 905Z" fill="#e02aa6"/><path d="M640 770 L800 690 L800 760 L640 845Z" fill="#f2f2f2" opacity="0.9"/><path d="M655 790 L790 722 M655 812 L790 745" stroke="#3a1424" stroke-width="9"/><path d="M850 640 L895 615 M850 690 L895 665 M850 740 L895 715" stroke="#2a0e1a" stroke-width="14"/></g>
<g transform="translate(1370,560) scale(0.104047)"><path d="M92 735 L882 278 L1672 735 L1672 752 L882 1209 L92 752Z" fill="#52d43a"/><path d="M882 278 L1672 735 L882 1192 L92 735Z" fill="#7ff25c"/><path d="M882 305 L1625 735 L882 1165 L139 735Z" fill="#72ea50"/><path d="M708 452 L819 516 L677 598 L566 534Z" fill="#57b83a"/><path d="M1072 443 L1198 516 L1087 580 L961 506Z" fill="#57b83a"/><path d="M1451 680 L1561 744 L1435 817 L1324 753Z" fill="#5cc43c"/><path d="M882 333 L993 397 L882 461 L771 397Z" fill="#62cf40"/><path d="M779 383 L1490 794 L882 1146 L171 735Z" fill="#f2c68c"/><path d="M1166 497 L1324 589 L1230 644 L1072 552Z" fill="#f2c68c"/><path d="M882 511 L1293 749 L882 986 L471 749Z" fill="#e9b877"/><path d="M882 520 L1277 749 L882 977 L487 749Z" fill="#22dccb"/><path d="M882 520 L1277 749 L1249 765 L854 536Z" fill="#19c4b8"/><path d="M882 520 L910 536 L515 765 L487 749Z" fill="#19c4b8"/><path d="M882 602 L1135 749 L882 895 L629 749Z" fill="#5fdc34"/><path d="M854 628 L882 645 L882 631 L854 614Z" fill="#58c62a"/><path d="M882 645 L910 628 L910 614 L882 631Z" fill="#6fd630"/><path d="M882 598 L910 614 L882 631 L854 614Z" fill="#a6f23c"/><path d="M812 652 L841 668 L841 654 L812 638Z" fill="#58c62a"/><path d="M841 668 L869 652 L869 638 L841 654Z" fill="#6fd630"/><path d="M841 621 L869 638 L841 654 L812 638Z" fill="#a6f23c"/><path d="M771 676 L800 692 L800 678 L771 662Z" fill="#58c62a"/><path d="M800 692 L828 676 L828 662 L800 678Z" fill="#6fd630"/><path d="M800 645 L828 662 L800 678 L771 662Z" fill="#a6f23c"/><path d="M730 699 L759 716 L759 702 L730 685Z" fill="#58c62a"/><path d="M759 716 L787 699 L787 685 L759 702Z" fill="#6fd630"/><path d="M759 669 L787 685 L759 702 L730 685Z" fill="#a6f23c"/><path d="M689 723 L718 740 L718 726 L689 709Z" fill="#58c62a"/><path d="M718 740 L746 723 L746 709 L718 726Z" fill="#6fd630"/><path d="M718 693 L746 709 L718 726 L689 709Z" fill="#a6f23c"/><path d="M648 747 L677 763 L677 749 L648 733Z" fill="#58c62a"/><path d="M677 763 L705 747 L705 733 L677 749Z" fill="#6fd630"/><path d="M677 716 L705 733 L677 749 L648 733Z" fill="#a6f23c"/><path d="M895 652 L923 668 L923 654 L895 638Z" fill="#58c62a"/><path d="M923 668 L952 652 L952 638 L923 654Z" fill="#6fd630"/><path d="M923 621 L952 638 L923 654 L895 638Z" fill="#a6f23c"/><path d="M854 676 L882 692 L882 678 L854 662Z" fill="#58c62a"/><path d="M882 692 L910 676 L910 662 L882 678Z" fill="#6fd630"/><path d="M882 645 L910 662 L882 678 L854 662Z" fill="#a6f23c"/><path d="M812 699 L841 716 L841 702 L812 685Z" fill="#58c62a"/><path d="M841 716 L869 699 L869 685 L841 702Z" fill="#6fd630"/><path d="M841 669 L869 685 L841 702 L812 685Z" fill="#a6f23c"/><path d="M771 723 L800 740 L800 726 L771 709Z" fill="#58c62a"/><path d="M800 740 L828 723 L828 709 L800 726Z" fill="#6fd630"/><path d="M800 693 L828 709 L800 726 L771 709Z" fill="#a6f23c"/><path d="M730 747 L759 763 L759 749 L730 733Z" fill="#58c62a"/><path d="M759 763 L787 747 L787 733 L759 749Z" fill="#6fd630"/><path d="M759 716 L787 733 L759 749 L730 733Z" fill="#a6f23c"/><path d="M689 771 L718 787 L718 773 L689 757Z" fill="#58c62a"/><path d="M718 787 L746 771 L746 757 L718 773Z" fill="#6fd630"/><path d="M718 740 L746 757 L718 773 L689 757Z" fill="#a6f23c"/><path d="M936 676 L964 692 L964 678 L936 662Z" fill="#58c62a"/><path d="M964 692 L993 676 L993 662 L964 678Z" fill="#6fd630"/><path d="M964 645 L993 662 L964 678 L936 662Z" fill="#a6f23c"/><path d="M895 699 L923 716 L923 702 L895 685Z" fill="#58c62a"/><path d="M923 716 L952 699 L952 685 L923 702Z" fill="#6fd630"/><path d="M923 669 L952 685 L923 702 L895 685Z" fill="#a6f23c"/><path d="M771 771 L800 787 L800 773 L771 757Z" fill="#58c62a"/><path d="M800 787 L828 771 L828 757 L800 773Z" fill="#6fd630"/><path d="M800 740 L828 757 L800 773 L771 757Z" fill="#a6f23c"/><path d="M730 794 L759 811 L759 797 L730 780Z" fill="#58c62a"/><path d="M759 811 L787 794 L787 780 L759 797Z" fill="#6fd630"/><path d="M759 764 L787 780 L759 797 L730 780Z" fill="#a6f23c"/><path d="M977 699 L1005 716 L1005 702 L977 685Z" fill="#58c62a"/><path d="M1005 716 L1034 699 L1034 685 L1005 702Z" fill="#6fd630"/><path d="M1005 669 L1034 685 L1005 702 L977 685Z" fill="#a6f23c"/><path d="M936 723 L964 740 L964 726 L936 709Z" fill="#58c62a"/><path d="M964 740 L993 723 L993 709 L964 726Z" fill="#6fd630"/><path d="M964 693 L993 709 L964 726 L936 709Z" fill="#a6f23c"/><path d="M812 794 L841 811 L841 797 L812 780Z" fill="#58c62a"/><path d="M841 811 L869 794 L869 780 L841 797Z" fill="#6fd630"/><path d="M841 764 L869 780 L841 797 L812 780Z" fill="#a6f23c"/><path d="M771 818 L800 835 L800 821 L771 804Z" fill="#58c62a"/><path d="M800 835 L828 818 L828 804 L800 821Z" fill="#6fd630"/><path d="M800 788 L828 804 L800 821 L771 804Z" fill="#a6f23c"/><path d="M1018 723 L1046 740 L1046 726 L1018 709Z" fill="#58c62a"/><path d="M1046 740 L1075 723 L1075 709 L1046 726Z" fill="#6fd630"/><path d="M1046 693 L1075 709 L1046 726 L1018 709Z" fill="#a6f23c"/><path d="M977 747 L1005 763 L1005 749 L977 733Z" fill="#58c62a"/><path d="M1005 763 L1034 747 L1034 733 L1005 749Z" fill="#6fd630"/><path d="M1005 716 L1034 733 L1005 749 L977 733Z" fill="#a6f23c"/><path d="M936 771 L964 787 L964 773 L936 757Z" fill="#58c62a"/><path d="M964 787 L993 771 L993 757 L964 773Z" fill="#6fd630"/><path d="M964 740 L993 757 L964 773 L936 757Z" fill="#a6f23c"/><path d="M895 794 L923 811 L923 797 L895 780Z" fill="#58c62a"/><path d="M923 811 L952 794 L952 780 L923 797Z" fill="#6fd630"/><path d="M923 764 L952 780 L923 797 L895 780Z" fill="#a6f23c"/><path d="M854 818 L882 835 L882 821 L854 804Z" fill="#58c62a"/><path d="M882 835 L910 818 L910 804 L882 821Z" fill="#6fd630"/><path d="M882 788 L910 804 L882 821 L854 804Z" fill="#a6f23c"/><path d="M812 842 L841 858 L841 844 L812 828Z" fill="#58c62a"/><path d="M841 858 L869 842 L869 828 L841 844Z" fill="#6fd630"/><path d="M841 811 L869 828 L841 844 L812 828Z" fill="#a6f23c"/><path d="M1059 747 L1087 763 L1087 749 L1059 733Z" fill="#58c62a"/><path d="M1087 763 L1116 747 L1116 733 L1087 749Z" fill="#6fd630"/><path d="M1087 716 L1116 733 L1087 749 L1059 733Z" fill="#a6f23c"/><path d="M1018 771 L1046 787 L1046 773 L1018 757Z" fill="#58c62a"/><path d="M1046 787 L1075 771 L1075 757 L1046 773Z" fill="#6fd630"/><path d="M1046 740 L1075 757 L1046 773 L1018 757Z" fill="#a6f23c"/><path d="M977 794 L1005 811 L1005 797 L977 780Z" fill="#58c62a"/><path d="M1005 811 L1034 794 L1034 780 L1005 797Z" fill="#6fd630"/><path d="M1005 764 L1034 780 L1005 797 L977 780Z" fill="#a6f23c"/><path d="M936 818 L964 835 L964 821 L936 804Z" fill="#58c62a"/><path d="M964 835 L993 818 L993 804 L964 821Z" fill="#6fd630"/><path d="M964 788 L993 804 L964 821 L936 804Z" fill="#a6f23c"/><path d="M895 842 L923 858 L923 844 L895 828Z" fill="#58c62a"/><path d="M923 858 L952 842 L952 828 L923 844Z" fill="#6fd630"/><path d="M923 811 L952 828 L923 844 L895 828Z" fill="#a6f23c"/><path d="M854 866 L882 882 L882 868 L854 852Z" fill="#58c62a"/><path d="M882 882 L910 866 L910 852 L882 868Z" fill="#6fd630"/><path d="M882 835 L910 852 L882 868 L854 852Z" fill="#a6f23c"/><path d="M575 520 L650 480 L790 610 L720 668Z" fill="#b85a2c"/><path d="M575 520 L575 610 L600 628 L600 540Z M650 480 L650 560 L668 575 L668 495Z M720 590 L720 668 L740 650 L740 575Z M770 560 L770 628 L790 610 L790 548Z" fill="#8e3e1c"/><path d="M575 520 L720 590 M650 480 L790 548 M575 560 L720 630" stroke="#d9733a" stroke-width="10" fill="none"/><path d="M1165 520 L1100 485 L965 610 L1030 665Z" fill="#b85a2c"/><path d="M1165 520 L1165 600 L1145 612 L1145 535Z M1100 485 L1100 560 L1082 572 L1082 498Z M1030 590 L1030 665 L1010 648 L1010 575Z M985 560 L985 625 L965 610 L965 548Z" fill="#8e3e1c"/><path d="M1165 520 L1030 590 M1100 485 L965 548 M1165 560 L1030 630" stroke="#d9733a" stroke-width="10" fill="none"/><ellipse cx="880" cy="712" rx="112" ry="64" fill="#aeb6ba"/><ellipse cx="880" cy="700" rx="112" ry="64" fill="#d5dadc"/><ellipse cx="880" cy="698" rx="92" ry="50" fill="#5fdad2"/><ellipse cx="880" cy="700" rx="46" ry="26" fill="#c3c9cc"/><path d="M850 700 Q852 640 880 610 Q908 640 910 700Z" fill="#b8bfc3"/><path d="M868 690 Q870 640 880 612 Q878 660 884 694Z" fill="#e2e6e8"/><ellipse cx="880" cy="640" rx="22" ry="10" fill="#8fe6e0" opacity="0.8"/><path d="M92 735 L250 826 L250 792 L92 701Z" fill="#5fcc24"/><path d="M250 826 L286 806 L286 772 L250 792Z" fill="#74dd2a"/><path d="M128 680 L286 772 L250 792 L92 701Z" fill="#a9f230"/><path d="M274 840 L440 936 L440 902 L274 806Z" fill="#5fcc24"/><path d="M440 936 L475 916 L475 882 L440 902Z" fill="#74dd2a"/><path d="M309 786 L475 882 L440 902 L274 806Z" fill="#a9f230"/><path d="M463 950 L629 1046 L629 1012 L463 916Z" fill="#5fcc24"/><path d="M629 1046 L665 1025 L665 991 L629 1012Z" fill="#74dd2a"/><path d="M499 895 L665 991 L629 1012 L463 916Z" fill="#a9f230"/><path d="M653 1059 L827 1160 L827 1126 L653 1025Z" fill="#5fcc24"/><path d="M827 1160 L862 1139 L862 1105 L827 1126Z" fill="#74dd2a"/><path d="M688 1005 L862 1105 L827 1126 L653 1025Z" fill="#a9f230"/><path d="M981 1094 L1016 1114 L1016 1080 L981 1060Z" fill="#5fcc24"/><path d="M1016 1114 L1198 1009 L1198 975 L1016 1080Z" fill="#74dd2a"/><path d="M1162 955 L1198 975 L1016 1080 L981 1060Z" fill="#a9f230"/><path d="M890 1146 L925 1167 L925 1133 L890 1112Z" fill="#5fcc24"/><path d="M925 1167 L993 1128 L993 1094 L925 1133Z" fill="#74dd2a"/><path d="M957 1073 L993 1094 L925 1133 L890 1112Z" fill="#a9f230"/><path d="M463 794 L566 854 L566 838 L463 778Z" fill="#a8441c"/><path d="M566 854 L590 840 L590 824 L566 838Z" fill="#c0562a"/><path d="M487 765 L590 824 L566 838 L463 778Z" fill="#e0703a"/><path d="M669 913 L771 973 L771 957 L669 897Z" fill="#a8441c"/><path d="M771 973 L795 959 L795 943 L771 957Z" fill="#c0562a"/><path d="M692 884 L795 943 L771 957 L669 897Z" fill="#e0703a"/><path d="M1174 840 L1198 854 L1198 838 L1174 824Z" fill="#a8441c"/><path d="M1198 854 L1301 794 L1301 778 L1198 838Z" fill="#c0562a"/><path d="M1277 765 L1301 778 L1198 838 L1174 824Z" fill="#e0703a"/><path d="M969 959 L993 973 L993 957 L969 943Z" fill="#a8441c"/><path d="M993 973 L1095 913 L1095 897 L993 957Z" fill="#c0562a"/><path d="M1072 884 L1095 897 L993 957 L969 943Z" fill="#e0703a"/><path d="M590 877 L629 900 L629 874 L590 851Z" fill="#7a2e12"/><path d="M629 900 L661 881 L661 855 L629 874Z" fill="#96401e"/><path d="M621 832 L661 855 L629 874 L590 851Z" fill="#b5532a"/><path d="M1103 881 L1135 900 L1135 874 L1103 855Z" fill="#7a2e12"/><path d="M1135 900 L1174 877 L1174 851 L1135 874Z" fill="#96401e"/><path d="M1143 832 L1174 851 L1135 874 L1103 855Z" fill="#b5532a"/><ellipse cx="905" cy="1135" rx="34" ry="18" fill="#b9bfc2"/><ellipse cx="895" cy="1128" rx="16" ry="10" fill="#e1e5e6"/><ellipse cx="1125" cy="470" rx="34" ry="20" fill="#b9bfc2"/><ellipse cx="1118" cy="462" rx="16" ry="10" fill="#e1e5e6"/><ellipse cx="600" cy="500" rx="26" ry="16" fill="#b9bfc2"/><rect x="1206" y="535" width="18" height="44" fill="#c23a1c"/><rect x="1200" y="548" width="30" height="10" fill="#9e2a12"/><path d="M735 255 L775.0 420 L695.0 420Z" fill="#4fc82a"/><path d="M735 255 L735 420 L695.0 420Z" fill="#74e23a"/><rect x="620.8" y="400.0" width="14.4" height="120.0" fill="#9a3f1c"/><path d="M565.6 384.0 L628 344.0 L692.0 380.0 L684.0 416.0 L628 440.0 L572.0 417.6Z" fill="#8be03a"/><path d="M572.0 372.0 L632.0 332.0 L690.4 368.0 L628 404.0Z" fill="#b4f24a"/><path d="M628 404.0 L690.4 368.0 L684.0 416.0 L628 440.0Z" fill="#6fcf2e"/><rect x="866.0" y="155.0" width="18.0" height="240.0" fill="#9a3f1c"/><path d="M797.0 135.0 L875 85.0 L955.0 130.0 L945.0 175.0 L875 205.0 L805.0 177.0Z" fill="#8be03a"/><path d="M805.0 120.0 L880.0 70.0 L953.0 115.0 L875 160.0Z" fill="#b4f24a"/><path d="M875 160.0 L953.0 115.0 L945.0 175.0 L875 205.0Z" fill="#6fcf2e"/><path d="M800 205 L880 160 L955 200 L945 290 L875 330 L805 290Z" fill="#9fe83e"/><path d="M880 160 L955 200 L945 290 L880 250Z" fill="#7ad432"/><rect x="1010" y="365" width="16" height="90" fill="#a0522d"/><ellipse cx="1018" cy="274" rx="72" ry="105" fill="#5fd628"/><ellipse cx="1002.16" cy="268" rx="51.839999999999996" ry="90.3" fill="#7fea34"/><rect x="990" y="480" width="16" height="20" fill="#a0522d"/><ellipse cx="998" cy="446" rx="34" ry="48" fill="#5fd628"/><ellipse cx="990.52" cy="440" rx="24.48" ry="41.28" fill="#7fea34"/><rect x="840" y="426" width="16" height="14" fill="#a0522d"/><ellipse cx="848" cy="404" rx="26" ry="36" fill="#5fd628"/><ellipse cx="842.28" cy="398" rx="18.72" ry="30.96" fill="#7fea34"/><rect x="1262" y="550" width="16" height="70" fill="#a0522d"/><ellipse cx="1270" cy="492" rx="50" ry="72" fill="#5fd628"/><ellipse cx="1259.0" cy="486" rx="36.0" ry="61.92" fill="#7fea34"/><path d="M1385 475 L1415.0 640 L1355.0 640Z" fill="#4fc82a"/><path d="M1385 475 L1385 640 L1355.0 640Z" fill="#74e23a"/><rect x="1454.98" y="643.2" width="14.040000000000001" height="46.800000000000004" fill="#9a3f1c"/><path d="M1401.16 627.6 L1462 588.6 L1524.4 623.7 L1516.6 658.8000000000001 L1462 682.2 L1407.4 660.36Z" fill="#8be03a"/><path d="M1407.4 615.9000000000001 L1465.9 576.9000000000001 L1522.84 612.0 L1462 647.1Z" fill="#b4f24a"/><path d="M1462 647.1 L1522.84 612.0 L1516.6 658.8000000000001 L1462 682.2Z" fill="#6fcf2e"/><rect x="1447" y="740" width="16" height="60" fill="#a0522d"/><ellipse cx="1455" cy="684" rx="52" ry="70" fill="#5fd628"/><ellipse cx="1443.56" cy="678" rx="37.44" ry="60.199999999999996" fill="#7fea34"/><rect x="271" y="440" width="14" height="215" fill="#b9b9b1"/><rect x="271" y="440" width="6" height="215" fill="#e8e8e2"/><ellipse cx="278" cy="655" rx="16" ry="8" fill="#8f8f88"/><circle cx="278" cy="426" r="22" fill="#f6f7f2"/><circle cx="283" cy="430" r="14" fill="#dfe2da"/><rect x="393" y="510" width="14" height="215" fill="#b9b9b1"/><rect x="393" y="510" width="6" height="215" fill="#e8e8e2"/><ellipse cx="400" cy="725" rx="16" ry="8" fill="#8f8f88"/><circle cx="400" cy="496" r="22" fill="#f6f7f2"/><circle cx="405" cy="500" r="14" fill="#dfe2da"/><rect x="563" y="405" width="14" height="215" fill="#b9b9b1"/><rect x="563" y="405" width="6" height="215" fill="#e8e8e2"/><ellipse cx="570" cy="620" rx="16" ry="8" fill="#8f8f88"/><circle cx="570" cy="391" r="22" fill="#f6f7f2"/><circle cx="575" cy="395" r="14" fill="#dfe2da"/><rect x="886" y="785" width="14" height="215" fill="#b9b9b1"/><rect x="886" y="785" width="6" height="215" fill="#e8e8e2"/><ellipse cx="893" cy="1000" rx="16" ry="8" fill="#8f8f88"/><circle cx="893" cy="771" r="22" fill="#f6f7f2"/><circle cx="898" cy="775" r="14" fill="#dfe2da"/><rect x="1313" y="690" width="14" height="225" fill="#b9b9b1"/><rect x="1313" y="690" width="6" height="225" fill="#e8e8e2"/><ellipse cx="1320" cy="915" rx="16" ry="8" fill="#8f8f88"/><circle cx="1320" cy="676" r="22" fill="#f6f7f2"/><circle cx="1325" cy="680" r="14" fill="#dfe2da"/><rect x="1348" y="545" width="14" height="225" fill="#b9b9b1"/><rect x="1348" y="545" width="6" height="225" fill="#e8e8e2"/><ellipse cx="1355" cy="770" rx="16" ry="8" fill="#8f8f88"/><circle cx="1355" cy="531" r="22" fill="#f6f7f2"/><circle cx="1360" cy="535" r="14" fill="#dfe2da"/></g>
<path d="M284.8 1090.2 H302.4 L285 1109 H302.8 M311.8 1089.2 V1110.2 M319.4 1089.6 L337.8 1109.8 M337.8 1089.6 L319.4 1109.8 M344.6 1110.2 V1090.2 H362 Q365.4 1090.2 365.4 1093.6 V1097.4 Q365.4 1100.8 362 1100.8 H344.6 M369.2 1110.2 V1093.8 Q369.2 1090.2 372.8 1090.2 H386 Q389.6 1090.2 389.6 1093.8 V1110.2 M369.2 1101 H389.6 M395 1089.6 L413.6 1109.8 M413.6 1089.6 L395 1109.8" fill="none" stroke="#ffffff" stroke-width="2.7" stroke-linecap="round" stroke-linejoin="round"/>
<text x="441.6" y="1110.2" font-size="27.4" font-weight="400" fill="#ffffff" stroke="#ffffff" stroke-width="0.8" textLength="118.6" lengthAdjust="spacingAndGlyphs">SUUNTO</text>
<path d="M501 1072.6 L506.9 1081.6 H495.1Z" fill="#e8201c"/>
<g transform="translate(586.2,1113.6) scale(0.575,1)"><text x="0" y="0" font-size="41" font-weight="700" font-style="italic" fill="#ffffff" stroke="#ffffff" stroke-width="2.2" letter-spacing="-1">NOX</text><text x="100.5" y="0" font-size="41" font-weight="700" font-style="italic" fill="#ffffff" stroke="#ffffff" stroke-width="2.2" letter-spacing="-1">NOX</text></g>
<path d="M609 1112 L623.5 1087 M665.5 1112 L680 1087" stroke="#114e08" stroke-width="1.6" fill="none"/>
<path d="M597 1106 L603 1094 M653.5 1106 L659.5 1094 M632 1108 L640 1096 M688.5 1108 L696.5 1096" stroke="#114e08" stroke-width="1" fill="none" opacity="0.8"/>
<rect x="731.6" y="1079.6" width="67.6" height="39.7" fill="#1b45de"/>
<rect x="731.6" y="1079.6" width="67.6" height="39.7" fill="none" stroke="#3f6be0" stroke-width="0.7"/>
<text x="734.2" y="1089.5" font-size="12.4" font-weight="700" fill="#fff" stroke="#fff" stroke-width="0.35" textLength="61.6" lengthAdjust="spacing">POCARI</text>
<text x="733.9" y="1100.9" font-size="12.4" font-weight="700" fill="#fff" stroke="#fff" stroke-width="0.35" textLength="56.2" lengthAdjust="spacing">SWEAT</text>
<g transform="translate(720,1070) scale(0.050607)"><path d="M250 722 Q350 690 450 680 Q600 678 800 728 Q1000 760 1250 748 Q1420 735 1555 712 L1555 940 Q1350 960 1150 935 Q950 900 750 810 Q550 730 400 722 Q320 720 250 735Z" fill="#fff"/></g>
<text x="1144.5" y="1098.7" font-size="27.2" font-weight="700" font-style="italic" fill="#ffffff" textLength="400" lengthAdjust="spacingAndGlyphs">วันแข่งขัน : 9 พฤศจิกายน 2568</text>
<text x="1144.0" y="1125.3" font-size="22.8" font-weight="700" font-style="italic" fill="#ffffff" textLength="398" lengthAdjust="spacingAndGlyphs">สวนพฤกษศาสตร์ผาแดง อ.แม่สอด จ.ตาก</text>
</svg>
</body></html>
